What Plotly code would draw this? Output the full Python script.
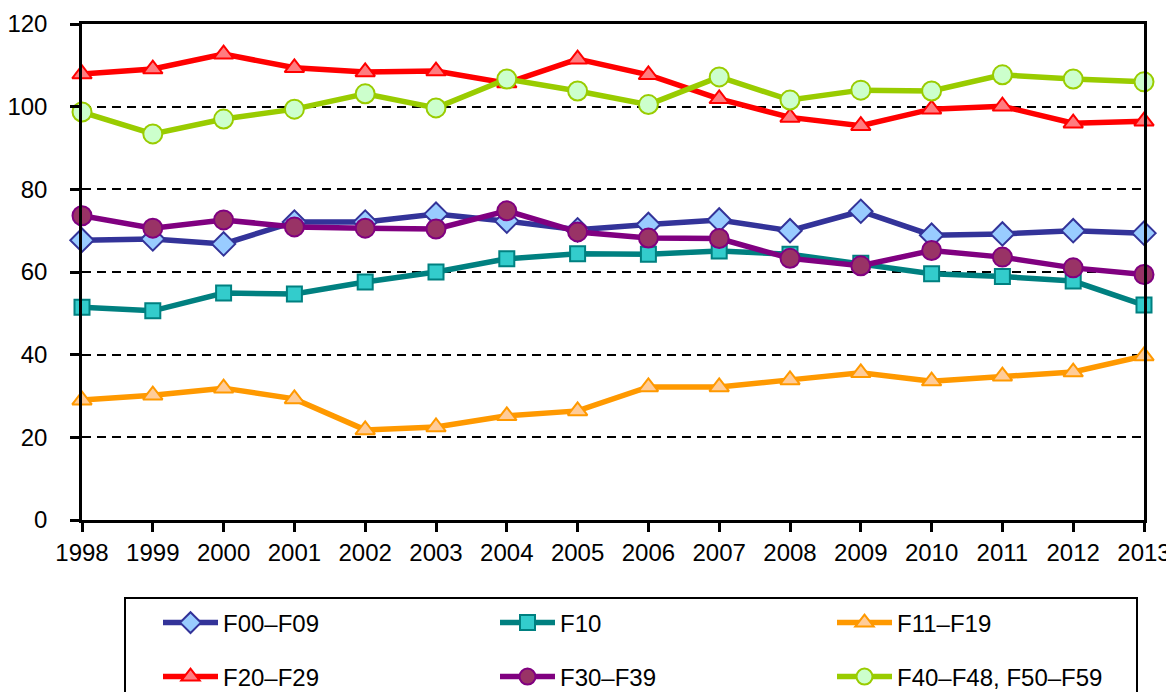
import plotly.graph_objects as go

years = list(range(1998, 2014))

f00_f09 = [67.7, 68.0, 66.8, 72.1, 72.1, 74.0, 72.3, 70.2, 71.5, 72.6, 70.0, 74.7, 68.9, 69.2, 70.0, 69.4]
f10 = [51.5, 50.6, 54.9, 54.7, 57.6, 60.0, 63.2, 64.4, 64.3, 65.1, 64.3, 62.1, 59.6, 58.9, 57.8, 52.0]
f11_f19 = [29.0, 30.2, 31.9, 29.3, 21.8, 22.5, 25.2, 26.4, 32.2, 32.2, 33.9, 35.6, 33.6, 34.8, 35.8, 39.7]
f20_f29 = [107.9, 109.1, 112.7, 109.4, 108.4, 108.6, 105.7, 111.5, 107.7, 101.9, 97.4, 95.4, 99.4, 100.1, 96.0, 96.5]
f30_f39 = [73.6, 70.6, 72.6, 70.9, 70.6, 70.4, 74.8, 69.7, 68.2, 68.1, 63.3, 61.5, 65.2, 63.6, 61.0, 59.4]
f40_f59 = [98.7, 93.4, 97.0, 99.4, 103.1, 99.7, 106.7, 103.8, 100.5, 107.2, 101.6, 104.0, 103.8, 107.7, 106.7, 106.0]

names = ["F00–F09", "F10", "F11–F19", "F20–F29", "F30–F39", "F40–F48, F50–F59"]
series = [f00_f09, f10, f11_f19, f20_f29, f30_f39, f40_f59]
line_colors = ["#333399", "#008080", "#FF9900", "#FF0000", "#800080", "#99CC00"]
fill_colors = ["#99CCFF", "#33CCCC", "#FFCC99", "#FF7C80", "#993366", "#CCFFCC"]
symbols = ["diamond", "square", "triangle-up", "triangle-up", "circle", "circle"]
sizes = [18, 15, 17, 17, 19, 19]
legend_ids = ["legend", "legend", "legend", "legend2", "legend2", "legend2"]

FONT = "Liberation Sans, Arial, sans-serif"
FS = 24

# the page body adds an 8px margin; size the figure so the page does not overflow the window
OFF = 8
W, H = 1174 - OFF, 700 - 2 * OFF
PL, PR, PT, PB = 82, 1144, 24, 520  # target plot-area edges in screen pixels

fig = go.Figure()
for name, vals, lc, fc, sym, sz, lg in zip(names, series, line_colors, fill_colors, symbols, sizes, legend_ids):
    fig.add_trace(go.Scatter(
        x=years, y=vals, name=name, mode="lines+markers",
        line=dict(color=lc, width=5.5),
        marker=dict(symbol=sym, size=sz, color=fc, line=dict(color=lc, width=2)),
        cliponaxis=False, legend=lg,
    ))

legend_common = dict(
    orientation="h", xanchor="left", yanchor="middle",
    xref="container", yref="container",
    font=dict(family=FONT, size=FS, color="black"),
    bgcolor="rgba(0,0,0,0)", borderwidth=0,
    entrywidth=267, entrywidthmode="pixels", itemwidth=55,
    traceorder="normal",
)

fig.update_layout(
    width=W, height=H,
    margin=dict(l=PL - OFF, r=W - (PR - OFF), t=PT - OFF, b=H - (PB - OFF), autoexpand=False),
    paper_bgcolor="white", plot_bgcolor="white",
    font=dict(family=FONT, size=FS, color="black"),
    showlegend=True,
    legend=dict(x=150 / W, y=1 - (623 - OFF) / H, **legend_common),
    legend2=dict(x=150 / W, y=1 - (677 - OFF) / H, **legend_common),
    shapes=[dict(type="rect", xref="paper", yref="paper",
                 x0=(125 - PL) / (PR - PL), x1=(1137 - PL) / (PR - PL),
                 y0=(PB - 720) / (PB - PT), y1=(PB - 598) / (PB - PT),
                 line=dict(color="black", width=2), fillcolor="rgba(0,0,0,0)")],
)

fig.update_xaxes(
    range=[1998, 2013], tickmode="array", tickvals=years, ticktext=[str(y) for y in years],
    showline=True, linecolor="black", linewidth=2.5, mirror=True,
    ticks="outside", ticklen=9, tickwidth=2.5, tickcolor="black",
    showgrid=False, zeroline=False,
    tickfont=dict(family=FONT, size=FS, color="black"),
)
fig.update_yaxes(
    range=[0, 120], tickmode="linear", tick0=0, dtick=20,
    showline=True, linecolor="black", linewidth=2.5, mirror=True,
    ticks="outside", ticklen=9, tickwidth=2.5, tickcolor="black",
    showgrid=True, gridcolor="black", gridwidth=2, griddash="9px,6px",
    zeroline=False, ticklabelstandoff=18,
    tickfont=dict(family=FONT, size=FS, color="black"),
)

fig.write_html("out.html")
